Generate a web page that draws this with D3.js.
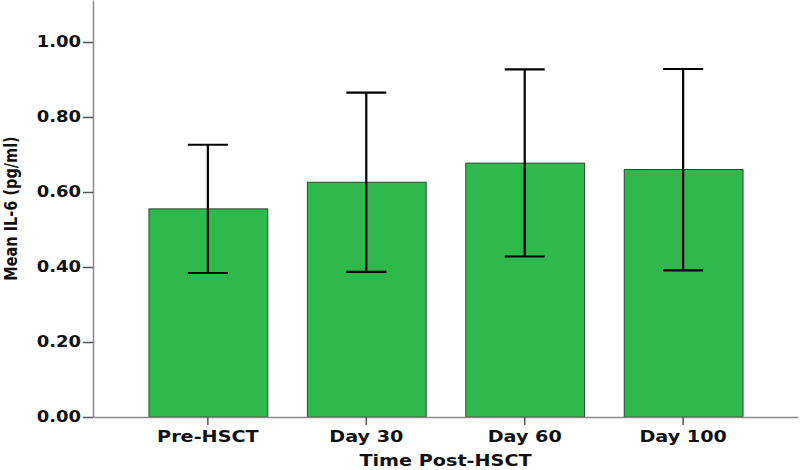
<!DOCTYPE html>
<html>
<head>
<meta charset="utf-8">
<script src="https://cdn.jsdelivr.net/npm/d3@7"></script>
<style>
html,body{margin:0;padding:0;background:#fff;}
svg{display:block;}
</style>
</head>
<body>
<svg id="chart" width="800" height="470"></svg>
<script>
const categories = ["Pre-HSCT", "Day 30", "Day 60", "Day 100"];
const means = [0.555, 0.626, 0.677, 0.660];
const lower = [0.384, 0.387, 0.428, 0.391];
const upper = [0.726, 0.865, 0.927, 0.928];
const yTicks = [0, 0.2, 0.4, 0.6, 0.8, 1.0];
const yTitle = "Mean IL-6 (pg/ml)";
const xTitle = "Time Post-HSCT";

const svg = d3.select("#chart");
const mLeft = 93, mRight = 798, mTop = 0, mBottom = 417;
const SX = 1.2; // horizontal text stretch seen in the reference

const x = d3.scaleBand().domain(categories).range([mLeft, mRight])
  .paddingInner(0.25).paddingOuter(0.35);
const y = d3.scaleLinear().domain([0, 1.112]).range([mBottom, mTop]);

// bars
svg.append("g").selectAll("rect").data(categories).join("rect")
  .attr("x", d => x(d) + 0.5)
  .attr("y", (d, i) => y(means[i]))
  .attr("width", x.bandwidth())
  .attr("height", (d, i) => y(0) - y(means[i]))
  .attr("fill", "#2fb84b")
  .attr("stroke", "#2a4a2f")
  .attr("stroke-width", 1);

// error bars
const eb = svg.append("g").attr("stroke", "#000").attr("stroke-width", 2.2);
categories.forEach((c, i) => {
  const cx = x(c) + x.bandwidth() / 2;
  eb.append("line").attr("x1", cx).attr("x2", cx).attr("y1", y(lower[i])).attr("y2", y(upper[i]));
  eb.append("line").attr("x1", cx - 20).attr("x2", cx + 20).attr("y1", y(upper[i])).attr("y2", y(upper[i]));
  eb.append("line").attr("x1", cx - 20).attr("x2", cx + 20).attr("y1", y(lower[i])).attr("y2", y(lower[i]));
});

// y axis
const yAxis = svg.append("g").attr("transform", `translate(${mLeft},0)`)
  .call(d3.axisLeft(y).tickValues(yTicks).tickFormat(d3.format(".2f")).tickSize(10).tickPadding(2).tickSizeOuter(0));
yAxis.select(".domain").attr("stroke", "#8a8a8a").attr("stroke-width", 1.5);
yAxis.selectAll(".tick line").attr("stroke", "#555").attr("stroke-width", 1.5);
yAxis.selectAll(".tick text")
  .attr("font-family", "DejaVu Sans")
  .attr("font-weight", "bold")
  .attr("font-size", 15)
  .attr("x", -12 / SX)
  .attr("transform", `scale(${SX},1)`)
  .attr("fill", "#111");

// x axis
const xAxis = svg.append("g").attr("transform", `translate(0,${mBottom})`)
  .call(d3.axisBottom(x).tickSize(8).tickPadding(6).tickSizeOuter(0));
xAxis.select(".domain").attr("stroke", "#8a8a8a").attr("stroke-width", 1.5);
xAxis.selectAll(".tick line").attr("stroke", "#555").attr("stroke-width", 1.5);
xAxis.selectAll(".tick text")
  .attr("font-family", "DejaVu Sans")
  .attr("font-weight", "bold")
  .attr("font-size", 16)
  .attr("transform", `scale(${SX},1)`)
  .attr("fill", "#111");

svg.append("text")
  .attr("transform", `translate(16.5,${(mTop + mBottom) / 2}) scale(${SX},1) rotate(-90)`)
  .attr("text-anchor", "middle")
  .attr("font-family", "DejaVu Sans")
  .attr("font-weight", "bold")
  .attr("font-size", 14.5)
  .attr("fill", "#111")
  .text(yTitle);

svg.append("text")
  .attr("transform", `translate(${(mLeft + mRight) / 2},466) scale(${SX},1)`)
  .attr("text-anchor", "middle")
  .attr("font-family", "DejaVu Sans")
  .attr("font-weight", "bold")
  .attr("font-size", 16)
  .attr("fill", "#111")
  .text(xTitle);
</script>
</body>
</html>
